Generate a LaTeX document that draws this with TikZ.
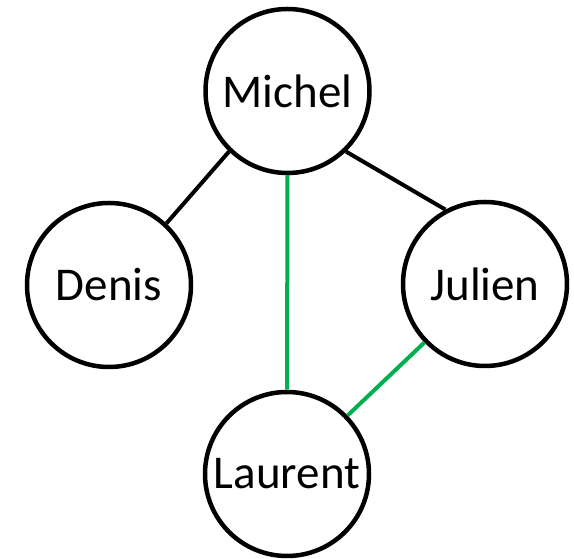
\documentclass[tikz,border=0pt]{standalone}
\usepackage{fontspec}
\setmainfont{Carlito}
\usepackage{tikz}
\definecolor{edgegreen}{RGB}{0,176,80}

\begin{document}
\begin{tikzpicture}[x=1pt,y=1pt,
  person/.style={draw,circle,line width=4.5pt,minimum size=164pt,inner sep=0pt,font=\fontsize{47}{56}\selectfont},
  link/.style={draw,line width=4pt},
  greenlink/.style={link,edgegreen}]
\useasboundingbox (0,0) rectangle (574,559);
\node[person] (michel) at (287.5,468) {Michel};
\node[person] (denis) at (109,274) {Denis};
\node[person] (julien) at (485,275) {Julien};
\node[person] (laurent) at (287,85) {Laurent};
\draw[link] (michel.226) -- (denis.47);
\draw[link] (michel.-46) -- (julien.118);
\draw[greenlink] (michel.south) -- (laurent.north);
\draw[greenlink] (julien.224) -- (laurent.44);
\end{tikzpicture}
\end{document}
